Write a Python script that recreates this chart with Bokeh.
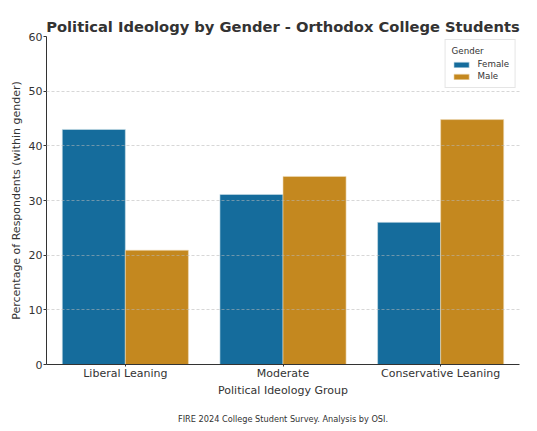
from bokeh.plotting import figure
from bokeh.models import ColumnDataSource, Range1d, FixedTicker, Legend, LegendItem, Title
from bokeh.transform import dodge
from bokeh.embed import file_html
from bokeh.resources import INLINE

categories = ["Liberal Leaning", "Moderate", "Conservative Leaning"]
female = [43.0, 31.1, 26.0]
male = [20.9, 34.4, 44.8]
y_ticks = [0, 10, 20, 30, 40, 50, 60]

FONT = "DejaVu Sans"
TXT = "#333333"
C_F = "#156c9c"
C_M = "#c4881f"

src = ColumnDataSource(dict(cat=categories, female=female, male=male))

p = figure(x_range=categories, y_range=Range1d(0, 60),
           frame_width=473, frame_height=328,
           output_backend="svg", toolbar_location=None,
           min_border_left=46, min_border_top=36, min_border_right=9, min_border_bottom=50)
p.x_range.range_padding = 0
p.outline_line_color = None

rf = p.vbar(x=dodge("cat", -0.2, range=p.x_range), top="female", width=0.4, source=src,
            fill_color=C_F, line_color="#cfe0ea", line_width=0.6)
rm = p.vbar(x=dodge("cat", 0.2, range=p.x_range), top="male", width=0.4, source=src,
            fill_color=C_M, line_color="#f0dcb8", line_width=0.6)

p.xgrid.grid_line_color = None
p.ygrid.grid_line_color = "#b8b8b8"
p.ygrid.grid_line_dash = "3 2"
p.ygrid.grid_line_width = 0.8
p.ygrid.grid_line_alpha = 0.7
p.ygrid.level = "overlay"

p.yaxis.ticker = FixedTicker(ticks=y_ticks)
p.yaxis.minor_tick_line_color = None
for ax in (p.xaxis, p.yaxis):
    ax.axis_line_color = "#333333"
    ax.axis_line_width = 1
    ax.major_tick_line_color = "#333333"
    ax.major_tick_in = 0
    ax.major_label_text_font = FONT
    ax.major_label_text_font_size = "11px"
    ax.major_label_text_color = TXT
    ax.axis_label_text_font = FONT
    ax.axis_label_text_font_size = "11px"
    ax.axis_label_text_font_style = "normal"
    ax.axis_label_text_color = TXT
p.xaxis.major_tick_out = 2
p.yaxis.major_tick_out = 3
p.xaxis.major_label_standoff = 0
p.yaxis.major_label_standoff = 1
p.xaxis.axis_label = "Political Ideology Group"
p.yaxis.axis_label = "Percentage of Respondents (within gender)"
p.xaxis.axis_label_standoff = 1
p.yaxis.axis_label_standoff = 3

legend = Legend(items=[LegendItem(label="Female", renderers=[rf]),
                       LegendItem(label="Male", renderers=[rm])],
                location="top_right", title="Gender")
legend.title_text_font = FONT
legend.title_text_font_size = "8.7px"
legend.title_text_font_style = "normal"
legend.title_text_color = TXT
legend.label_text_font = FONT
legend.label_text_font_size = "8.7px"
legend.label_text_color = TXT
legend.glyph_width = 19
legend.glyph_height = 7
legend.label_height = 10
legend.spacing = 2
legend.padding = 6
legend.margin = 3
legend.label_standoff = 7
legend.title_standoff = 3
legend.border_line_color = "#cccccc"
legend.background_fill_alpha = 0.85
p.add_layout(legend)

p.title.text = "Political Ideology by Gender - Orthodox College Students"
p.title.align = "center"
p.title.text_font = FONT
p.title.text_font_size = "14.7px"
p.title.text_font_style = "bold"
p.title.text_color = TXT
p.title.standoff = 3

foot = Title(text="FIRE 2024 College Student Survey. Analysis by OSI.", align="center",
             text_font=FONT, text_font_size="8.2px", text_font_style="normal",
             text_color=TXT, standoff=24)
p.add_layout(foot, "below")

open("out.html", "w").write(file_html(p, INLINE))
